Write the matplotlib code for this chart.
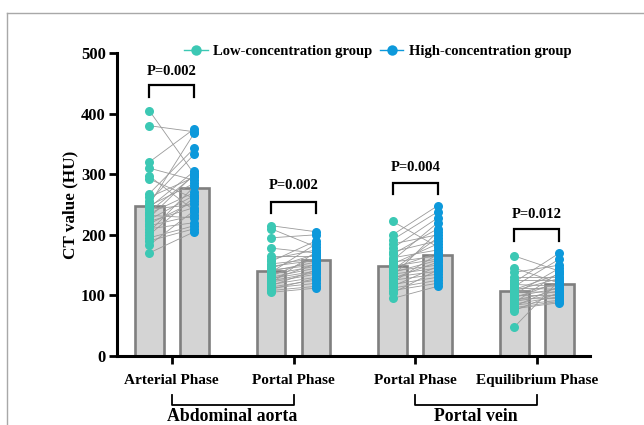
import numpy as np
import matplotlib
matplotlib.use("Agg")
import matplotlib.pyplot as plt
from matplotlib.lines import Line2D

plt.rcParams["font.family"] = ["Liberation Serif", "DejaVu Serif"]
plt.rcParams["font.weight"] = "bold"

phases = ["Arterial Phase", "Portal Phase", "Portal Phase", "Equilibrium Phase"]
groups = ["Abdominal aorta", "Portal vein"]
p_labels = ["P=0.002", "P=0.002", "P=0.004", "P=0.012"]

# bar heights (group means)
low_mean = [248, 140, 149, 107]
high_mean = [278, 158, 167, 119]

# paired individual values, same patient order in low/high
art_low = [405, 380, 320, 310, 297, 292, 268, 262, 255, 250, 248, 245, 242, 238,
           235, 232, 228, 225, 222, 218, 215, 210, 205, 200, 195, 190, 183, 170]
art_high = [300, 370, 375, 290, 240, 260, 343, 295, 333, 368, 285, 305, 250, 298,
            270, 228, 300, 265, 245, 255, 232, 220, 280, 262, 215, 210, 240, 205]
pa_low = [215, 210, 195, 178, 165, 160, 156, 152, 148, 145, 142, 140, 138, 135,
          132, 130, 128, 126, 124, 122, 120, 118, 116, 114, 112, 110, 108, 105]
pa_high = [205, 180, 200, 170, 165, 175, 190, 160, 158, 168, 150, 155, 185, 148,
           162, 145, 140, 152, 138, 135, 172, 130, 142, 125, 120, 128, 115, 112]
pv_low = [222, 200, 192, 185, 178, 172, 168, 162, 158, 155, 152, 148, 145, 142,
          140, 138, 135, 132, 130, 128, 125, 122, 118, 115, 112, 108, 104, 95]
pv_high = [180, 248, 238, 200, 228, 190, 210, 175, 220, 165, 185, 160, 170, 195,
           150, 158, 145, 205, 140, 155, 135, 168, 130, 148, 125, 120, 142, 115]
eq_low = [165, 145, 138, 130, 125, 122, 118, 115, 112, 110, 108, 106, 104, 102,
          100, 98, 96, 94, 92, 90, 88, 86, 84, 82, 80, 78, 75, 48]
eq_high = [140, 120, 150, 130, 125, 170, 115, 160, 110, 135, 128, 105, 118, 145,
           100, 112, 122, 95, 108, 102, 138, 98, 92, 115, 90, 88, 105, 125]

low_pts = [art_low, pa_low, pv_low, eq_low]
high_pts = [art_high, pa_high, pv_high, eq_high]

# bracket heights (top, leg bottom) and p-label centre
br_top = [447, 254, 285, 210]
br_leg = [427, 236, 267, 190]
p_y = [470, 281, 311, 233]

c_low = "#3cc8b4"
c_high = "#0d99db"

fig = plt.figure(figsize=(6.44, 4.25), dpi=100)
ax = fig.add_axes([0.1817, 0.1624, 0.7343, 0.7129])

x = np.arange(len(phases))
off = 0.185
w = 0.235
ax.bar(x - off, low_mean, w, color="#d4d4d4", edgecolor="#7f7f7f", linewidth=1.9, zorder=1)
ax.bar(x + off, high_mean, w, color="#d4d4d4", edgecolor="#7f7f7f", linewidth=1.9, zorder=1)

for i in range(len(phases)):
    for a, b in zip(low_pts[i], high_pts[i]):
        ax.plot([x[i] - off, x[i] + off], [a, b], color="#9a9a9a", lw=0.6, zorder=2)
    ax.plot(np.full(len(low_pts[i]), x[i] - off), low_pts[i], "o", color=c_low,
            ms=6.5, mew=0, zorder=3)
    ax.plot(np.full(len(high_pts[i]), x[i] + off), high_pts[i], "o", color=c_high,
            ms=6.5, mew=0, zorder=3)
    ax.plot([x[i] - off, x[i] - off, x[i] + off, x[i] + off],
            [br_leg[i], br_top[i], br_top[i], br_leg[i]], color="black", lw=1.6,
            zorder=4, solid_joinstyle="miter")
    ax.text(x[i], p_y[i], p_labels[i], ha="center", va="center", fontsize=10.5,
            fontweight="bold")

ax.set_xlim(-0.45, 3.435)
ax.set_ylim(0, 500)
ax.set_yticks([0, 100, 200, 300, 400, 500])
ax.set_xticks(x)
ax.set_xticklabels(phases, fontsize=11, fontweight="bold")
for lab in ax.get_yticklabels():
    lab.set_fontsize(12)
    lab.set_fontweight("bold")
ax.tick_params(axis="both", width=2, length=6, direction="out")
ax.tick_params(axis="x", pad=7)
ax.tick_params(axis="y", pad=2)
ax.spines["top"].set_visible(False)
ax.spines["right"].set_visible(False)
ax.spines["left"].set_linewidth(2.2)
ax.spines["bottom"].set_linewidth(2.2)
ax.set_ylabel("CT value (HU)", fontsize=12.3, fontweight="bold", labelpad=2)

# group brackets below the x labels
for g, (a, b) in enumerate([(0, 1), (2, 3)]):
    ax.plot([x[a], x[a], x[b], x[b]], [-0.13, -0.162, -0.162, -0.13], color="black",
            lw=1.3, transform=ax.get_xaxis_transform(), clip_on=False)
    ax.text((x[a] + x[b]) / 2, -0.2, groups[g], ha="center", va="center", fontsize=12.8,
            fontweight="bold", transform=ax.get_xaxis_transform())

handles = [Line2D([], [], color=c_low, marker="o", ms=7.5, lw=1, mew=0),
           Line2D([], [], color=c_high, marker="o", ms=7.5, lw=1, mew=0)]
ax.legend(handles, ["Low-concentration group", "High-concentration group"], ncol=2,
          loc="center left", bbox_to_anchor=(0.127, 1.005), frameon=False, fontsize=10.5,
          handlelength=1.6, handletextpad=0.35, columnspacing=0.55, borderpad=0)

# figure frame lines on left and top
fig.add_artist(Line2D([7 / 644, 7 / 644], [0, 1 - 13 / 425], color="#a8a8a8", lw=1))
fig.add_artist(Line2D([7 / 644, 1], [1 - 13 / 425, 1 - 13 / 425], color="#a8a8a8", lw=1))

fig.savefig("out.png", dpi=100)
